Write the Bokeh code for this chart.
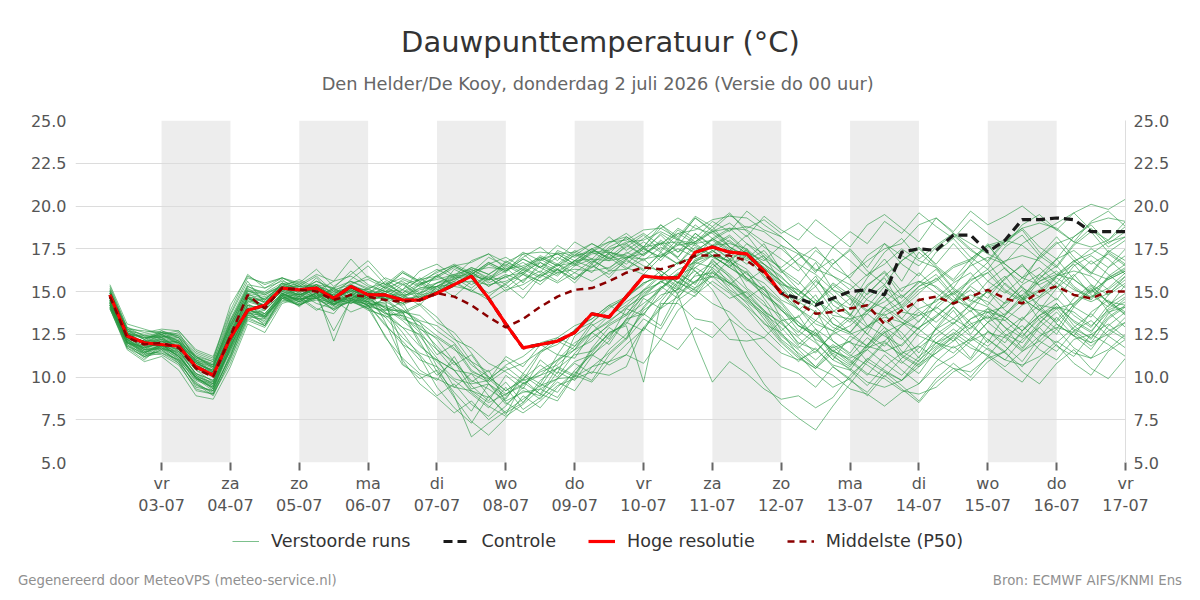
import pandas as pd
from bokeh.plotting import figure
from bokeh.layouts import column, row
from bokeh.models import (Range1d, LinearAxis, FixedTicker, PrintfTickFormatter, Div,
                          BoxAnnotation, Label, Legend, LegendItem, ColumnDataSource)
from bokeh.embed import file_html
from bokeh.resources import INLINE

# ---------------- data ----------------
base_time = pd.Timestamp("2026-07-02 00:00")
times = pd.date_range("2026-07-02 06:00", "2026-07-17 00:00", freq="6h")  # 60 steps (6-hourly)

tick_days = list(range(1, 16))
day_names = ["vr", "za", "zo", "ma", "di", "wo", "do", "vr", "za", "zo", "ma", "di", "wo", "do", "vr"]
day_dates = ["03-07", "04-07", "05-07", "06-07", "07-07", "08-07", "09-07", "10-07",
             "11-07", "12-07", "13-07", "14-07", "15-07", "16-07", "17-07"]
shaded_days = [1, 3, 5, 7, 9, 11, 13]
y_ticks = [5.0, 7.5, 10.0, 12.5, 15.0, 17.5, 20.0, 22.5, 25.0]

title_text = "Dauwpunttemperatuur (°C)"
subtitle_text = "Den Helder/De Kooy, donderdag  2 juli 2026 (Versie do 00 uur)"
footer_left = "Gegenereerd door MeteoVPS (meteo-service.nl)"
footer_right = "Bron: ECMWF AIFS/KNMI Ens"

hoge_resolutie = [14.8, 12.4, 12.0, 11.9, 11.8, 10.6, 10.1, 12.3, 13.9, 14.2,
                  15.2, 15.1, 15.2, 14.6, 15.3, 14.8, 14.8, 14.5, 14.5, 14.9,
                  15.4, 15.9, 14.6, 13.1, 11.7, 11.9, 12.1, 12.6, 13.7, 13.5,
                  14.7, 15.9, 15.8, 15.8, 17.3, 17.6, 17.3, 17.2, 16.2, 14.9]

controle = [14.8, 12.4, 12.0, 11.9, 11.8, 10.6, 10.1, 12.3, 13.9, 14.2,
            15.2, 15.1, 15.2, 14.6, 15.3, 14.8, 14.8, 14.5, 14.5, 14.9,
            15.4, 15.9, 14.6, 13.1, 11.7, 11.9, 12.1, 12.6, 13.7, 13.5,
            14.7, 15.9, 15.8, 15.8, 17.3, 17.6, 17.3, 17.2, 16.2, 14.9,
            14.6, 14.2, 14.6, 15.0, 15.1, 14.8, 17.3, 17.5, 17.4, 18.3,
            18.3, 17.3, 18.0, 19.2, 19.2, 19.3, 19.2, 18.5, 18.5, 18.5]

middelste_p50 = [14.7, 12.3, 11.9, 12.0, 11.7, 10.5, 10.0, 12.4, 14.8, 14.0,
                 15.2, 15.1, 15.0, 14.5, 14.8, 14.7, 14.5, 14.4, 14.5, 14.9,
                 14.7, 14.2, 13.5, 12.9, 13.4, 14.1, 14.7, 15.1, 15.2, 15.6,
                 16.1, 16.4, 16.3, 16.6, 17.1, 17.1, 17.1, 16.8, 16.1, 14.9,
                 14.3, 13.7, 13.8, 14.0, 14.2, 13.1, 13.9, 14.5, 14.7, 14.3,
                 14.7, 15.1, 14.6, 14.3, 15.0, 15.3, 14.8, 14.6, 15.0, 15.0]

verstoorde_runs = [
    [14.9,12.6,12.2,12.7,12.4,11.3,10.9,13.6,15.6,14.3, 15.5,14.9,15.8,14.7,15.4,15.9,15.2,16.1,15.6,15.0,
     16.3,15.8,16.6,16.1,17.2,16.4,15.9,16.8,17.5,16.9, 17.6,18.3,17.4,18.6,17.9,18.8,17.6,16.9,17.8,16.2,
     15.4,16.7,15.1,14.2,15.8,16.9,15.6,17.3,16.4,15.2, 16.6,17.8,16.3,15.5,17.1,18.2,17.0,16.1,17.4,16.8],
    [14.2,11.9,11.3,11.5,11.0,9.4,9.2,11.2,13.9,13.0, 14.8,14.1,15.0,12.1,14.6,14.2,13.1,11.9,10.4,9.8,
     11.2,9.5,8.6,10.1,9.3,11.0,10.2,12.4,13.1,12.2, 14.0,13.6,15.2,16.1,15.4,16.9,15.8,14.6,15.3,13.4,
     12.6,13.9,12.1,11.4,12.8,13.7,12.3,11.1,12.9,14.1, 13.2,12.0,13.6,14.8,13.3,12.5,14.1,15.2,13.8,12.9],
    [15.4,13.1,12.8,12.5,12.7,11.6,11.2,13.9,16.0,15.2, 15.8,15.5,16.3,15.3,16.0,16.8,15.7,15.1,16.2,16.6,
     15.9,16.8,17.2,16.3,17.0,17.6,16.8,17.9,17.3,18.2, 17.4,18.1,18.9,18.0,19.3,18.5,19.0,18.2,19.4,18.6,
     18.0,19.2,18.4,17.6,18.9,19.5,18.7,17.9,19.3,18.5, 19.7,18.9,19.4,20.0,19.2,18.6,19.6,20.1,19.8,20.4],
    [14.1,11.7,11.0,11.9,11.2,9.9,9.5,11.9,14.2,13.5, 14.6,14.9,14.3,14.0,14.8,15.2,14.5,10.8,9.9,10.4,
     9.1,8.0,9.6,8.7,10.1,9.4,10.9,11.8,12.6,11.9, 13.4,14.8,15.6,14.9,16.4,15.8,16.9,15.2,14.4,12.7,
     13.6,12.1,11.0,12.4,11.8,13.3,12.6,11.4,12.8,13.9, 12.5,13.8,12.9,11.7,13.1,14.3,13.0,12.2,13.7,14.6],
    [14.6,12.2,11.7,12.0,12.1,10.8,10.4,12.4,14.4,14.6, 15.1,15.4,14.6,15.1,14.3,14.9,15.6,14.8,14.2,15.3,
     14.7,15.6,14.9,15.4,14.6,15.9,16.3,15.5,16.6,15.8, 16.9,16.2,17.3,16.6,17.8,17.1,16.4,17.5,15.9,15.1,
     14.3,15.6,14.8,13.6,14.9,15.8,14.1,13.2,14.6,15.5, 16.1,14.9,15.7,16.6,15.3,14.5,15.9,16.8,16.0,15.2],
    [14.4,12.0,11.6,11.6,11.5,10.2,9.8,11.5,13.7,13.9, 14.9,14.4,14.9,14.6,14.3,14.7,13.8,12.6,11.2,9.4,
     8.2,7.3,8.9,7.8,9.7,9.0,10.6,10.1,11.7,12.9, 12.2,14.1,15.3,14.6,16.0,16.7,15.4,16.2,14.6,13.3,
     11.9,12.8,11.3,10.4,11.8,12.6,10.9,10.2,11.6,12.3, 11.1,12.7,11.8,10.9,12.3,13.5,12.4,11.6,13.0,13.8],
    [15.2,12.9,12.4,12.3,12.6,11.0,10.7,13.3,15.1,15.0, 15.7,15.0,15.6,15.2,16.2,15.4,15.0,15.7,15.3,15.9,
     16.5,16.0,15.6,16.8,16.2,17.0,16.5,17.3,16.7,17.6, 18.1,17.3,18.4,17.7,18.9,18.1,17.4,18.3,17.0,16.4,
     17.2,16.1,17.6,16.8,15.9,17.3,18.1,16.9,17.7,18.4, 17.5,16.7,17.9,18.6,17.3,16.5,17.8,18.7,17.6,18.2],
    [14.0,11.8,11.4,11.3,10.7,9.3,9.0,10.8,13.3,12.9, 14.4,14.7,14.0,13.7,14.9,14.1,13.9,14.4,12.7,11.3,
     11.9,10.4,9.8,11.2,10.6,11.9,11.3,12.8,13.4,14.2, 13.6,15.1,16.0,15.3,16.8,17.4,16.6,15.6,16.3,14.8,
     13.9,14.8,13.1,12.6,13.9,14.7,13.4,12.8,14.2,15.0, 14.1,13.2,14.4,15.3,14.0,13.3,14.6,15.4,14.3,13.7],
    [14.8,12.5,12.0,12.3,11.7,10.6,10.1,12.1,14.5,14.1, 15.2,15.5,15.0,14.6,15.5,15.7,15.2,15.6,14.9,16.0,
     15.3,16.1,15.7,16.4,15.5,16.7,16.0,16.6,16.1,17.2, 16.6,17.5,17.0,18.1,17.4,18.0,17.3,16.6,17.1,15.5,
     14.8,15.9,14.2,13.6,15.3,16.2,15.0,16.1,15.2,14.4, 15.8,16.7,15.4,14.6,16.0,16.9,15.7,15.0,16.4,17.1],
    [14.5,12.3,11.8,11.8,11.6,10.1,9.6,12.0,14.0,13.6, 14.9,14.5,15.1,14.4,14.6,15.0,13.2,11.0,9.6,8.8,
     7.9,8.6,7.5,8.3,9.4,8.7,9.9,10.8,10.2,11.6, 12.5,13.7,13.0,14.9,15.6,16.3,15.1,14.4,13.6,12.2,
     11.4,10.6,11.8,10.9,10.1,11.3,10.4,9.6,10.9,11.8, 11.0,12.2,11.4,10.6,11.9,12.8,11.7,11.1,12.4,13.2],
    [14.7,12.4,12.1,12.6,12.3,10.9,10.5,12.9,14.9,14.7, 15.2,14.8,15.3,14.5,15.2,14.6,15.3,14.7,15.2,15.5,
     16.0,15.4,15.9,15.0,15.7,16.2,15.6,16.5,16.9,16.2, 16.9,17.6,16.8,17.9,17.2,17.7,16.9,17.4,16.3,15.6,
     14.5,15.3,13.9,13.2,14.6,15.4,14.0,14.9,15.8,14.7, 13.8,15.1,15.9,14.6,13.9,15.2,16.0,14.8,14.1,15.4],
    [14.2,12.0,11.5,11.4,11.0,9.8,9.4,11.6,13.8,13.2, 14.6,14.2,14.8,14.1,14.4,14.0,14.6,13.8,14.3,13.5,
     12.3,10.9,9.6,8.4,9.2,8.9,10.3,9.8,11.2,12.4, 13.3,14.0,15.2,15.9,15.0,16.4,15.6,14.7,13.4,12.1,
     11.2,10.5,11.6,10.8,11.9,12.9,11.5,10.9,12.3,13.1, 13.9,12.7,12.0,13.4,14.2,13.1,12.4,13.8,14.5,13.6],
    [15.1,12.8,12.7,12.6,12.5,11.4,11.0,14.2,15.9,15.4, 15.8,15.3,15.9,15.0,15.6,15.1,15.8,15.4,15.7,16.3,
     15.8,16.4,16.0,16.7,16.3,17.1,16.6,17.4,16.9,17.8, 18.4,17.6,18.7,18.1,19.3,18.6,19.5,18.7,19.2,18.4,
     19.0,18.2,17.6,18.5,17.8,19.1,18.4,19.6,18.8,18.1, 19.2,18.4,17.7,18.9,19.5,18.6,17.9,19.1,19.7,18.8],
    [14.3,12.2,11.6,11.7,11.1,9.7,9.0,11.4,13.6,13.3, 14.7,14.2,14.7,12.7,14.5,14.8,14.0,13.3,12.4,11.1,
     9.4,10.2,8.9,7.9,8.5,9.6,9.1,10.4,11.3,10.7, 11.3,10.8,12.2,11.6,12.9,12.3,13.4,12.6,11.5,10.6,
     10.2,9.4,10.6,9.8,9.1,10.3,9.5,8.6,9.9,10.8, 10.0,11.2,10.4,9.7,11.0,11.9,10.8,10.1,11.5,12.2],
    [14.9,12.7,12.3,12.4,12.2,11.1,10.8,13.0,15.3,14.8, 15.4,15.6,15.1,14.8,15.7,16.5,15.4,14.9,15.8,15.1,
     15.6,16.2,15.3,15.9,15.1,16.0,16.6,15.8,16.4,17.0, 16.3,17.2,17.9,17.0,18.4,17.6,18.2,17.3,16.8,17.7,
     16.5,15.3,16.6,17.4,16.2,15.4,16.8,17.6,16.5,15.7, 16.9,17.7,16.6,15.8,17.0,17.9,16.8,16.0,17.3,18.0],
    [14.0,11.6,10.9,11.2,10.4,8.9,8.7,10.6,13.1,12.6, 14.3,14.6,13.9,14.5,13.8,14.2,13.0,12.1,11.0,10.6,
     9.8,9.0,8.2,9.4,8.1,8.8,9.7,9.2,10.6,11.4, 12.3,13.9,14.6,15.8,15.2,16.6,15.9,14.7,13.9,12.5,
     11.7,12.6,11.2,10.6,11.9,12.7,11.3,10.7,12.0,12.8, 12.1,13.2,12.4,11.6,12.9,13.8,12.7,12.0,13.4,14.1],
    [14.6,12.4,11.9,12.2,11.8,10.7,10.2,12.7,14.7,14.4, 15.3,15.0,15.4,14.9,15.1,14.7,15.3,16.1,15.5,14.9,
     15.8,15.2,16.0,15.4,16.3,15.8,16.6,16.1,16.8,16.3, 17.3,16.8,17.6,17.0,18.2,17.4,16.7,17.8,16.9,16.1,
     16.9,17.6,16.4,15.8,17.1,17.8,16.6,15.9,17.3,18.1, 17.0,16.3,17.6,18.3,17.1,16.4,17.7,18.5,17.3,16.6],
    [14.4,12.1,11.7,12.0,11.3,10.0,9.7,12.2,14.3,13.7, 14.8,15.1,14.6,15.2,14.5,14.0,12.4,10.7,10.1,8.9,
     9.6,8.4,7.7,8.8,9.9,10.7,10.0,11.4,12.3,13.0, 13.6,14.3,15.1,16.0,15.5,16.8,16.0,15.1,14.2,13.6,
     12.4,13.3,12.7,13.6,12.5,11.8,13.0,13.8,12.8,12.1, 13.4,14.0,12.9,12.3,13.6,14.3,13.2,12.6,14.0,14.7],
    [15.0,12.6,12.3,12.5,12.0,11.2,10.6,13.2,15.2,14.5, 15.5,15.2,15.0,15.6,15.9,15.3,15.0,14.6,15.4,15.8,
     16.4,16.0,16.7,16.2,16.9,16.4,17.3,16.8,17.5,16.9, 17.2,17.9,17.3,18.4,17.8,18.5,17.9,17.2,16.4,15.6,
     14.8,15.7,14.5,14.0,15.4,16.1,14.7,15.5,16.3,15.1, 14.4,15.6,16.4,15.2,14.7,15.9,16.6,15.4,14.8,15.9],
    [14.2,11.8,11.2,11.6,10.9,9.6,9.1,11.3,13.5,13.4, 14.7,14.3,14.8,14.2,14.9,14.5,14.1,13.4,13.0,12.2,
     10.9,9.7,10.4,8.5,7.9,8.6,9.5,9.9,10.3,10.1, 10.6,12.9,14.1,15.2,14.7,16.1,15.3,14.3,13.1,12.6,
     11.3,10.2,9.4,9.9,8.9,10.1,9.3,8.5,9.7,10.5, 9.8,10.9,11.5,10.3,9.6,10.8,11.6,10.5,9.9,11.1],
    [14.7,12.5,12.0,12.1,11.9,10.8,10.3,12.5,14.6,14.2, 15.1,14.7,15.2,14.4,15.0,14.5,15.2,14.8,15.4,15.9,
     15.4,16.1,15.5,16.0,15.6,16.5,16.1,16.8,16.4,17.3, 16.9,17.5,17.0,17.8,17.3,18.1,17.5,16.8,17.4,16.2,
     15.1,14.3,15.4,14.6,13.8,15.0,14.2,15.3,16.0,14.8, 15.6,16.3,15.1,14.5,15.8,16.5,15.3,14.6,15.9,16.6],
    [14.5,12.3,11.8,11.9,11.6,10.4,10.0,12.3,14.4,14.1, 15.0,14.6,15.3,14.2,14.9,14.4,14.8,14.1,12.9,11.8,
     10.7,11.3,9.9,10.6,9.8,11.4,12.1,11.6,13.0,13.6, 14.4,15.0,15.9,15.2,16.6,17.1,16.4,15.7,14.8,13.9,
     13.0,12.4,13.5,12.6,13.7,12.9,12.2,13.3,14.1,13.4, 12.8,14.0,13.5,12.7,13.9,14.6,13.6,12.9,14.2,14.9],
    [14.8,12.7,12.2,12.5,12.1,11.1,10.7,13.1,15.0,14.9, 15.3,15.7,15.2,14.9,15.3,15.0,14.6,15.4,14.8,15.5,
     15.9,16.4,16.0,16.6,16.1,16.9,16.3,17.2,16.6,17.5, 17.8,17.1,18.0,17.3,18.4,17.7,18.3,17.4,16.6,15.8,
     15.0,14.3,15.5,14.8,14.1,15.3,14.6,15.6,14.9,14.2, 15.4,16.1,15.0,14.4,15.6,16.2,15.2,14.5,15.8,16.4],
    [14.3,12.0,11.4,11.8,11.2,10.0,9.4,11.8,14.0,13.4, 14.8,14.4,14.9,14.3,14.6,14.2,14.4,13.9,13.2,11.6,
     10.4,9.2,8.8,9.7,8.5,9.8,10.5,10.0,11.6,12.5, 13.2,12.7,14.4,15.6,14.9,16.2,15.5,14.6,13.7,12.9,
     11.8,11.0,11.9,11.2,12.3,11.5,10.8,11.7,12.5,13.2, 12.4,11.8,12.7,13.5,12.6,12.0,12.9,13.7,12.8,12.2],
    [15.3,12.9,12.6,12.8,12.7,11.5,11.1,13.7,15.8,15.5, 15.8,15.4,16.0,15.6,16.9,15.8,15.4,16.2,15.6,16.1,
     16.6,16.1,17.0,16.5,17.3,16.8,17.7,17.1,17.8,17.2, 18.2,17.6,18.9,18.2,19.4,18.8,19.6,18.5,17.6,16.9,
     16.2,17.4,16.6,17.5,16.4,17.8,17.1,16.5,17.6,18.3, 17.4,16.8,18.0,18.7,17.6,16.9,18.2,18.9,17.8,18.5],
    [14.1,11.9,11.1,11.6,10.8,9.6,8.9,11.1,13.4,13.0, 14.5,14.2,14.7,13.9,14.6,14.0,13.5,13.8,12.1,10.3,
     8.8,7.4,6.6,7.6,8.9,8.2,9.4,10.3,9.8,11.3, 12.2,13.4,12.8,14.5,15.2,15.9,15.0,14.1,13.2,12.0,
     11.1,10.5,11.4,10.7,11.6,10.8,10.1,11.2,12.0,11.4, 12.3,11.6,11.0,12.2,12.9,11.8,11.2,12.5,13.1,12.3],
    [14.6,12.3,12.1,12.4,12.0,10.9,10.3,12.6,14.6,14.0, 15.1,15.3,14.7,15.2,14.6,14.9,14.5,15.1,14.6,15.0,
     15.5,15.0,15.8,15.2,16.0,15.6,16.3,15.7,16.5,16.0, 16.8,16.3,17.2,16.6,17.6,17.0,16.5,17.1,15.8,14.9,
     14.0,13.3,14.5,13.7,12.9,14.1,13.4,14.6,13.8,13.1, 14.3,15.0,13.9,13.3,14.6,15.3,14.1,13.5,14.8,15.5],
    [14.4,12.2,11.6,11.8,11.5,10.2,9.6,12.1,14.1,13.7, 14.9,14.5,14.9,14.5,14.8,14.3,14.1,13.7,14.2,13.2,
     12.6,11.4,10.0,9.2,9.9,9.0,8.6,10.1,9.7,10.9, 11.3,12.9,12.2,13.9,14.8,15.6,14.9,14.0,12.8,11.8,
     10.9,11.7,10.6,9.9,11.1,10.4,9.8,11.0,11.8,12.6, 11.9,11.2,12.4,13.0,12.1,11.5,12.7,13.3,12.4,11.7],
    [14.9,12.5,12.3,12.3,12.0,11.0,10.6,13.0,14.8,14.6, 15.3,14.9,15.4,14.7,15.2,14.9,15.4,15.8,15.4,16.2,
     16.5,16.0,16.7,16.2,16.9,16.4,17.0,16.5,17.3,16.8, 17.7,17.1,17.8,16.9,16.2,15.1,13.4,11.2,9.6,8.4,
     7.6,6.9,8.3,9.6,10.9,12.0,11.3,12.6,13.5,14.4, 15.3,14.6,15.8,16.5,15.7,16.9,17.4,16.6,17.2,16.5],
    [14.2,12.1,11.5,11.7,11.3,9.9,9.4,11.7,13.9,13.6, 14.7,14.4,14.6,14.0,14.4,14.1,14.6,13.5,12.8,12.3,
     11.6,10.9,10.3,11.0,10.2,11.5,12.3,11.8,13.2,14.0, 14.7,15.4,16.2,15.5,16.9,17.3,18.0,17.2,16.4,15.3,
     14.0,12.8,12.1,11.3,10.7,10.0,11.1,11.9,12.8,13.4, 14.2,15.0,14.3,15.4,16.0,15.2,16.5,17.1,16.4,17.5],
    [15.0,12.8,12.4,12.6,12.4,11.2,10.7,13.3,15.3,14.9, 15.5,15.1,15.6,15.1,15.4,15.0,14.7,14.3,14.9,15.3,
     15.7,16.3,15.8,16.5,16.0,16.8,17.2,16.6,17.4,17.0, 17.8,18.4,17.7,18.7,18.1,19.1,18.5,19.7,18.9,18.2,
     17.3,16.2,16.9,15.7,14.8,15.9,16.8,17.5,16.6,17.8, 16.7,15.6,14.9,15.8,16.4,15.5,16.7,17.5,16.9,16.0],
    [14.4,12.0,11.8,11.9,11.4,10.2,9.8,11.9,14.2,13.9, 14.9,14.4,15.0,14.4,14.7,14.2,13.8,12.9,11.8,11.0,
     10.4,9.1,8.3,7.7,8.4,9.3,8.8,10.2,11.4,12.6, 13.1,14.6,14.0,15.5,16.2,15.4,14.6,15.0,13.9,13.1,
     12.3,11.4,12.6,13.4,12.5,14.1,14.8,13.9,13.2,14.1, 13.0,12.2,11.5,12.7,13.6,12.8,14.3,15.1,14.4,13.8],
    [14.7,12.4,11.9,12.2,11.7,10.6,10.1,12.4,14.7,14.1, 15.0,14.8,15.2,14.7,15.0,14.5,14.9,15.5,14.6,15.2,
     15.6,15.0,14.7,15.5,16.0,15.4,16.3,15.7,16.7,17.2, 16.4,16.0,17.0,17.5,17.0,18.1,18.7,17.8,17.2,16.3,
     15.6,14.5,13.8,14.6,13.0,12.4,11.8,12.9,13.6,14.4, 15.1,14.2,15.5,14.6,13.9,13.2,14.2,15.0,15.7,16.2],
    [14.5,12.4,11.6,12.1,11.6,10.5,10.1,12.3,14.6,14.2, 15.0,14.7,15.1,14.3,14.9,14.4,14.3,11.9,11.3,10.1,
     10.9,9.3,9.6,8.9,10.2,9.6,11.3,11.1,12.6,13.3, 14.0,14.9,15.6,15.1,16.7,16.4,17.2,15.7,15.1,14.3,
     13.0,12.6,11.5,12.1,10.9,10.3,9.8,10.6,11.4,12.1, 12.9,13.6,12.5,12.0,13.2,14.0,12.8,12.3,13.5,14.2],
    [15.1,12.7,12.5,12.7,12.3,11.2,10.9,13.4,15.4,15.2, 15.6,15.3,15.4,15.2,15.6,15.2,15.5,14.9,15.5,15.7,
     16.0,16.3,15.7,16.2,16.7,16.1,17.4,17.0,17.5,17.9, 18.2,17.5,18.3,17.3,17.9,18.6,17.6,17.0,16.6,15.4,
     15.1,14.3,15.2,16.0,16.8,17.5,17.8,18.9,19.3,18.4, 17.8,17.2,16.7,17.8,18.4,19.0,19.6,18.6,18.0,19.1],
    [14.3,12.1,11.4,11.9,11.2,10.0,9.3,11.8,13.8,13.5, 14.8,14.5,14.9,14.2,14.8,14.4,13.7,13.6,12.6,10.6,
     8.9,6.5,7.3,8.0,8.7,9.5,9.9,10.9,11.3,12.1, 13.4,13.7,14.8,15.1,15.9,16.1,15.5,14.9,13.8,13.2,
     12.0,11.6,10.7,10.4,9.5,10.6,11.4,11.8,11.1,10.5, 10.3,11.1,11.5,12.6,11.6,11.0,12.2,12.5,11.9,11.2],
    [14.8,12.6,12.0,12.4,12.1,10.8,10.4,12.7,14.9,14.3, 15.2,15.1,15.1,14.8,15.2,14.7,15.0,14.6,15.1,15.3,
     15.9,16.0,16.6,17.0,16.4,16.9,17.2,16.6,17.2,17.3, 17.0,16.9,16.0,14.8,12.1,9.7,10.9,10.2,9.3,8.7,
     8.9,8.2,8.8,10.1,11.0,12.1,11.2,10.6,11.7,12.4, 13.1,13.5,13.3,12.4,13.4,14.1,13.3,12.7,13.8,14.1],
    [14.1,12.0,11.2,11.7,10.9,9.5,9.2,11.2,13.7,13.1, 14.6,14.3,14.5,14.2,14.4,14.3,13.7,13.6,13.2,12.4,
     11.7,10.3,9.9,9.0,9.6,10.1,10.5,11.3,11.5,12.6, 13.0,9.7,14.3,14.3,13.4,13.2,12.2,12.1,12.3,13.3,
     13.5,14.5,13.6,13.4,13.7,14.7,13.8,13.6,14.0,14.9, 14.0,13.8,14.1,15.1,14.2,14.0,14.3,15.3,14.4,14.2],
    [14.6,12.5,11.9,12.3,11.7,10.9,10.2,12.6,14.6,14.4, 15.1,14.8,15.2,14.5,15.1,14.6,14.6,14.2,14.7,14.9,
     15.3,15.1,14.5,15.1,15.4,16.0,15.5,16.1,15.6,16.2, 16.3,16.9,17.1,17.7,17.9,18.5,18.7,18.6,17.9,17.5,
     16.6,16.0,15.1,14.7,13.9,13.6,14.1,15.1,15.6,16.4, 16.8,17.6,17.9,18.7,19.0,18.7,17.9,17.6,18.0,18.8],
    [14.4,12.2,11.5,11.9,11.2,10.1,9.5,12.0,13.9,13.7, 14.8,14.7,14.7,14.4,14.6,14.4,13.5,12.3,11.4,11.0,
     10.4,10.2,9.7,10.4,10.8,11.5,11.9,12.7,13.2,14.1, 14.6,15.5,15.9,16.7,17.0,17.6,16.9,16.3,15.2,14.4,
     13.2,12.5,11.5,11.0,10.2,9.9,9.2,9.0,9.4,10.3, 10.8,11.7,11.0,10.7,11.2,12.1,11.4,11.1,11.6,12.5],
    [14.9,12.5,12.4,12.4,12.3,10.9,10.6,12.8,15.1,14.5, 15.4,15.0,15.4,14.7,15.3,14.8,15.1,14.7,15.2,15.3,
     15.8,15.9,15.7,15.8,16.4,15.9,16.5,16.7,17.3,17.4, 17.9,18.0,18.5,18.0,17.8,18.0,18.6,18.8,18.5,17.7,
     17.2,16.3,15.9,15.1,16.0,16.6,17.5,16.8,16.4,15.6, 16.5,17.0,16.6,15.8,15.4,15.9,16.8,16.1,15.7,16.2],
    [14.2,12.1,11.3,11.8,11.0,9.9,9.2,11.6,13.6,13.5, 14.7,14.6,14.6,14.3,14.5,14.2,12.3,11.1,10.2,9.9,
     9.4,9.2,8.5,9.0,9.5,10.4,11.0,12.0,12.6,13.6, 14.2,15.1,15.5,16.3,16.7,17.4,16.7,16.1,14.9,14.0,
     12.7,12.0,11.0,10.5,9.7,9.4,9.8,10.8,11.4,12.4, 11.7,11.3,10.6,11.5,12.1,13.1,12.4,12.0,12.5,13.5],
    [14.7,12.3,12.1,12.2,12.0,10.7,10.4,12.5,14.7,14.1, 15.2,14.8,15.2,14.5,15.1,14.6,14.7,14.3,14.8,15.0,
     15.5,15.6,15.4,15.6,16.1,15.6,16.1,16.3,16.2,16.4, 17.0,17.2,17.8,17.9,17.7,17.1,16.8,16.0,15.5,14.5,
     14.0,13.1,12.7,12.0,11.7,12.1,13.0,13.6,14.5,14.9, 15.7,16.1,16.8,17.1,16.8,16.0,16.8,17.2,17.9,18.2],
    [14.3,12.0,11.7,11.7,11.4,9.9,9.6,11.7,14.0,13.5, 14.9,14.5,14.9,14.2,14.8,14.3,14.2,13.8,13.6,12.7,
     12.0,10.7,10.0,9.2,9.8,10.1,11.0,11.6,12.6,13.2, 14.1,14.7,15.6,16.0,16.8,17.1,16.8,15.8,15.1,13.9,
     13.2,12.2,11.7,12.1,13.0,13.5,13.2,12.4,12.0,12.5, 13.4,13.8,13.5,12.7,13.6,14.1,13.8,13.0,13.9,14.4],
    [15.0,12.8,12.2,12.6,12.1,11.2,10.5,13.1,15.0,14.8, 15.3,15.3,15.3,15.0,15.2,15.1,14.8,14.8,14.9,15.5,
     15.7,16.2,16.4,16.3,16.5,17.0,16.5,17.1,17.3,17.9, 18.0,18.6,18.7,19.3,18.7,18.4,17.6,17.1,16.1,15.4,
     14.4,13.8,12.9,12.5,12.9,13.8,14.4,15.3,15.7,16.5, 16.9,17.7,18.0,17.7,16.9,17.8,18.2,19.0,19.3,19.1],
    [14.0,11.7,11.2,11.4,10.8,9.2,9.0,11.0,13.5,13.0, 14.6,14.2,14.6,13.9,14.5,13.9,13.6,12.9,12.5,11.6,
     10.9,9.8,9.3,8.6,9.1,9.3,9.9,10.0,10.6,10.9, 11.9,12.8,14.0,14.7,15.6,15.9,15.5,14.5,13.7,12.4,
     11.6,10.6,10.1,9.3,9.0,8.3,9.1,9.6,10.6,11.2, 12.1,12.6,12.3,11.5,12.4,12.9,12.6,11.8,12.7,13.2],
    [14.6,12.2,12.1,12.1,12.0,10.6,10.3,12.4,14.6,14.1, 15.2,14.8,15.1,14.5,15.1,14.6,15.0,15.1,15.7,15.9,
     16.5,16.7,17.2,16.7,17.2,17.3,17.2,17.3,17.8,17.3, 17.1,16.5,16.2,15.5,15.1,14.3,13.8,12.8,12.3,11.4,
     11.0,11.5,12.5,13.0,13.9,14.4,15.2,15.6,15.3,14.5, 14.1,13.4,14.3,14.8,15.6,16.0,15.7,14.9,15.8,16.3],
    [14.5,12.3,11.7,12.1,11.5,10.4,9.7,12.3,14.2,14.0, 14.8,14.8,14.8,14.5,14.7,14.6,14.0,13.8,11.9,10.9,
     9.9,9.6,9.8,10.7,11.2,12.0,12.3,13.0,13.4,14.2, 14.7,15.5,15.9,16.7,17.0,17.7,17.8,17.5,16.6,15.9,
     14.8,14.1,13.1,12.6,11.8,11.5,11.9,12.9,13.5,14.4, 14.8,14.4,13.6,14.5,15.0,15.8,15.1,14.7,15.2,16.1],
    [14.8,12.6,12.0,12.5,11.9,11.0,10.3,12.9,14.7,14.5, 15.1,15.1,15.1,14.8,15.0,14.9,14.6,14.6,14.7,15.3,
     15.4,15.9,15.3,15.9,16.1,16.7,16.2,16.8,16.9,16.8, 17.0,17.6,17.8,18.4,18.6,19.2,19.4,19.3,18.6,18.2,
     17.3,16.8,15.9,15.4,14.5,14.0,13.2,12.8,12.0,11.7, 12.2,13.2,13.7,14.6,15.1,15.9,16.2,15.9,15.1,15.9],
    [14.3,12.2,11.4,11.9,11.1,10.0,9.3,11.8,13.7,13.6, 14.6,14.6,14.6,14.3,14.5,14.4,13.9,13.9,13.3,13.0,
     12.2,11.7,10.8,10.3,9.6,10.3,10.7,11.6,12.1,13.1, 13.7,14.7,15.2,16.0,16.4,17.1,16.4,15.8,14.8,14.1,
     13.0,12.4,11.5,11.1,11.6,12.6,13.1,14.0,14.4,15.2, 14.5,14.1,13.3,14.2,14.7,15.5,14.8,14.4,14.9,15.7],
]

# ---------------- derived x positions (days since 02-07 00:00) ----------------
t_days = ((times - base_time) / pd.Timedelta(days=1)).tolist()
FONT = "DejaVu Sans"
W = 1200

# ---------------- header figure (title + subtitle) ----------------
head = figure(width=W, height=100, output_backend="svg", toolbar_location=None,
              x_range=Range1d(0, W), y_range=Range1d(100, 0),
              x_axis_type=None, y_axis_type=None, min_border=0)
head.outline_line_color = None
head.grid.visible = False
head.add_layout(Label(x=600, y=41, text=title_text, text_align="center", text_baseline="middle",
                      text_font=FONT, text_font_size="29px", text_color="#333333"))
head.add_layout(Label(x=600, y=83, text=subtitle_text, text_align="center", text_baseline="middle",
                      text_font=FONT, text_font_size="17.8px", text_color="#666666"))

# ---------------- main chart ----------------
p = figure(width=W, height=420, output_backend="svg", toolbar_location=None,
           x_range=Range1d(-0.25, 15.0), y_range=Range1d(5, 25),
           min_border_left=75, min_border_right=75, min_border_top=20, min_border_bottom=58)
p.outline_line_color = None

for d in shaded_days:
    p.add_layout(BoxAnnotation(left=d, right=d + 1, fill_color="#ededed", fill_alpha=1.0,
                               line_color=None, level="image"))

p.xgrid.visible = False
p.ygrid.ticker = FixedTicker(ticks=y_ticks)
p.ygrid.grid_line_color = "#dcdcdc"

p.yaxis.ticker = FixedTicker(ticks=y_ticks)
p.yaxis.formatter = PrintfTickFormatter(format="%.1f")
p.yaxis.axis_line_color = None
p.yaxis.major_tick_line_color = None
p.yaxis.major_tick_out = 0
p.yaxis.minor_tick_line_color = None
p.yaxis.minor_tick_out = 0
p.yaxis.major_label_standoff = 9
p.yaxis.major_label_text_font = FONT
p.yaxis.major_label_text_font_size = "16px"
p.yaxis.major_label_text_color = "#555555"

right_axis = LinearAxis(ticker=FixedTicker(ticks=y_ticks), formatter=PrintfTickFormatter(format="%.1f"),
                        axis_line_color="#dddddd", major_tick_line_color=None, major_tick_out=0,
                        minor_tick_line_color=None, minor_tick_out=0,
                        major_label_standoff=8, major_label_text_font=FONT,
                        major_label_text_font_size="16px", major_label_text_color="#555555")
p.add_layout(right_axis, "right")

p.xaxis.ticker = FixedTicker(ticks=tick_days)
p.xaxis.major_label_overrides = {d: f"{n}\n{s}" for d, n, s in zip(tick_days, day_names, day_dates)}
p.xaxis.axis_line_color = None
p.xaxis.major_tick_line_color = "#666666"
p.xaxis.major_tick_line_width = 2
p.xaxis.major_tick_in = 0
p.xaxis.major_tick_out = 8
p.xaxis.minor_tick_line_color = None
p.xaxis.major_label_standoff = 3
p.xaxis.major_label_text_font = FONT
p.xaxis.major_label_text_font_size = "16px"
p.xaxis.major_label_text_color = "#555555"
p.xaxis.major_label_text_line_height = 1.2

ENS = dict(line_color="#25963f", line_alpha=0.6, line_width=1)
CTRL = dict(line_color="#1a1a1a", line_width=3.2, line_dash="9 5")
HRES = dict(line_color="#ff0000", line_width=3.2)
P50 = dict(line_color="#8b0000", line_width=2.5, line_dash="7 5")

src = ColumnDataSource(dict(xs=[t_days[:len(r)] for r in verstoorde_runs], ys=verstoorde_runs))
p.multi_line("xs", "ys", source=src, **ENS)
p.line(t_days[:len(controle)], controle, **CTRL)
p.line(t_days[:len(hoge_resolutie)], hoge_resolutie, **HRES)
p.line(t_days[:len(middelste_p50)], middelste_p50, **P50)

# ---------------- legend strip ----------------
foot = figure(width=W, height=50, output_backend="svg", toolbar_location=None,
              x_range=Range1d(0, W), y_range=Range1d(0, 50),
              x_axis_type=None, y_axis_type=None, min_border=0)
foot.outline_line_color = None
foot.grid.visible = False
nan = float("nan")
l_ens = foot.line([nan], [nan], **ENS)
l_ctrl = foot.line([nan], [nan], **CTRL)
l_hres = foot.line([nan], [nan], **HRES)
l_p50 = foot.line([nan], [nan], **P50)
legend = Legend(items=[LegendItem(label="Verstoorde runs", renderers=[l_ens]),
                       LegendItem(label="Controle", renderers=[l_ctrl]),
                       LegendItem(label="Hoge resolutie", renderers=[l_hres]),
                       LegendItem(label="Middelste (P50)", renderers=[l_p50])],
                location=(157, 19), orientation="horizontal",
                label_text_font=FONT, label_text_font_size="17.6px", label_text_color="#333333",
                glyph_width=27, glyph_height=20, label_standoff=12, spacing=32,
                padding=0, margin=0, border_line_alpha=0, background_fill_alpha=0)
foot.add_layout(legend, "center")

# ---------------- credits ----------------
credit_style = ("font-family:'DejaVu Sans'; font-size:13.3px; color:#909090; line-height:22px; "
                "white-space:nowrap; width:600px; box-sizing:border-box;")
credit_left = Div(text=f'<div style="{credit_style} padding-left:18px; text-align:left;">{footer_left}</div>',
                  width=600, height=30, margin=0)
credit_right = Div(text=f'<div style="{credit_style} padding-right:18px; text-align:right;">{footer_right}</div>',
                   width=600, height=30, margin=0)

layout = column(head, p, foot, row(credit_left, credit_right, spacing=0), spacing=0)
open("out.html", "w").write(file_html(layout, INLINE))
